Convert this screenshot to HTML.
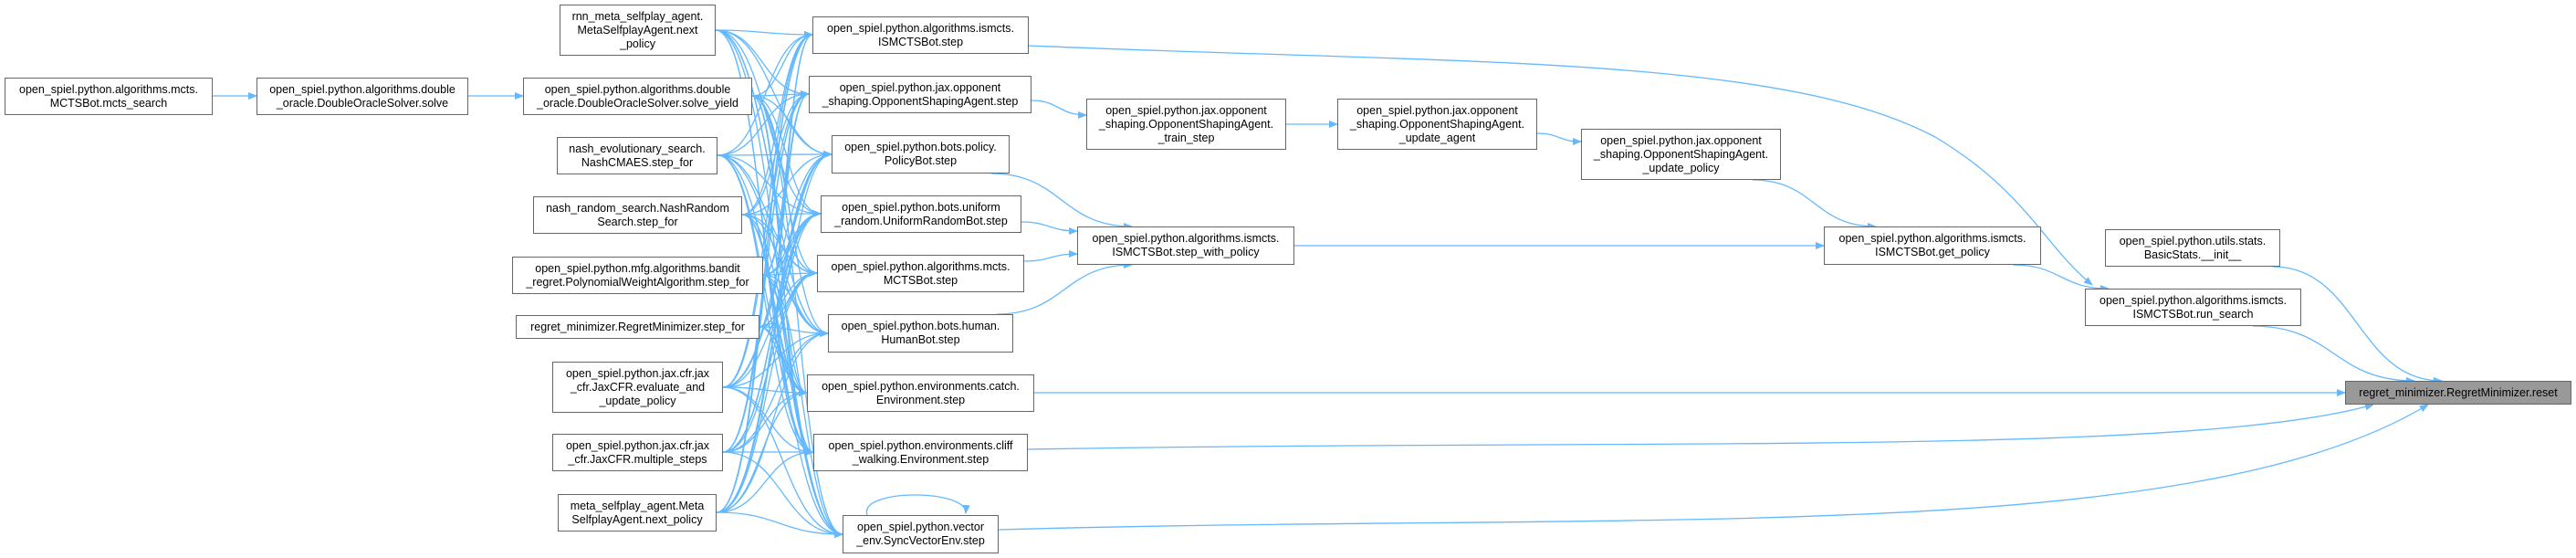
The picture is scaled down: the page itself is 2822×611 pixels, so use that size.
<!DOCTYPE html>
<html><head><meta charset="utf-8"><style>
body{margin:0;background:#fff;}
#c{position:relative;width:2822px;height:611px;overflow:hidden;font-family:"Liberation Sans",Arial,sans-serif;}
.n{position:absolute;box-sizing:border-box;border:1.5px solid #666;background:#fff;display:flex;align-items:center;justify-content:center;text-align:center;font-size:12.5px;line-height:15px;color:#000;white-space:nowrap;}
svg{position:absolute;left:0;top:0;}
</style></head><body><div id="c">
<svg id="s" width="2822" height="611" viewBox="0 0 2822 611">
<defs><marker id="a" markerWidth="10" markerHeight="8" refX="9" refY="4" orient="auto" markerUnits="userSpaceOnUse"><path d="M0,0 L10,4 L0,8 z" fill="#63b8ff"/></marker></defs>
<g id="e" fill="none" stroke="#63b8ff" stroke-width="1.3"></g>
</svg>
<div class="n" style="left:5px;top:85px;width:228px;height:41px">open_spiel.python.algorithms.mcts.<br>MCTSBot.mcts_search</div>
<div class="n" style="left:281px;top:85px;width:232px;height:41px">open_spiel.python.algorithms.double<br>_oracle.DoubleOracleSolver.solve</div>
<div class="n" style="left:573px;top:85px;width:251px;height:41px">open_spiel.python.algorithms.double<br>_oracle.DoubleOracleSolver.solve_yield</div>
<div class="n" style="left:613px;top:5px;width:171px;height:56px">rnn_meta_selfplay_agent.<br>MetaSelfplayAgent.next<br>_policy</div>
<div class="n" style="left:610px;top:150px;width:176px;height:41px">nash_evolutionary_search.<br>NashCMAES.step_for</div>
<div class="n" style="left:584px;top:215px;width:229px;height:41px">nash_random_search.NashRandom<br>Search.step_for</div>
<div class="n" style="left:561px;top:281px;width:275px;height:41px">open_spiel.python.mfg.algorithms.bandit<br>_regret.PolynomialWeightAlgorithm.step_for</div>
<div class="n" style="left:565px;top:345px;width:267px;height:26px">regret_minimizer.RegretMinimizer.step_for</div>
<div class="n" style="left:605px;top:396px;width:187px;height:56px">open_spiel.python.jax.cfr.jax<br>_cfr.JaxCFR.evaluate_and<br>_update_policy</div>
<div class="n" style="left:605px;top:475px;width:187px;height:41px">open_spiel.python.jax.cfr.jax<br>_cfr.JaxCFR.multiple_steps</div>
<div class="n" style="left:611px;top:541px;width:174px;height:41px">meta_selfplay_agent.Meta<br>SelfplayAgent.next_policy</div>
<div class="n" style="left:890px;top:18px;width:237px;height:41px">open_spiel.python.algorithms.ismcts.<br>ISMCTSBot.step</div>
<div class="n" style="left:886px;top:83px;width:244px;height:41px">open_spiel.python.jax.opponent<br>_shaping.OpponentShapingAgent.step</div>
<div class="n" style="left:911px;top:148px;width:195px;height:42px">open_spiel.python.bots.policy.<br>PolicyBot.step</div>
<div class="n" style="left:899px;top:214px;width:220px;height:41px">open_spiel.python.bots.uniform<br>_random.UniformRandomBot.step</div>
<div class="n" style="left:895px;top:279px;width:227px;height:41px">open_spiel.python.algorithms.mcts.<br>MCTSBot.step</div>
<div class="n" style="left:907px;top:344px;width:203px;height:42px">open_spiel.python.bots.human.<br>HumanBot.step</div>
<div class="n" style="left:884px;top:410px;width:249px;height:41px">open_spiel.python.environments.catch.<br>Environment.step</div>
<div class="n" style="left:891px;top:475px;width:235px;height:41px">open_spiel.python.environments.cliff<br>_walking.Environment.step</div>
<div class="n" style="left:923px;top:564px;width:171px;height:42px">open_spiel.python.vector<br>_env.SyncVectorEnv.step</div>
<div class="n" style="left:1190px;top:108px;width:219px;height:56px">open_spiel.python.jax.opponent<br>_shaping.OpponentShapingAgent.<br>_train_step</div>
<div class="n" style="left:1465px;top:108px;width:219px;height:56px">open_spiel.python.jax.opponent<br>_shaping.OpponentShapingAgent.<br>_update_agent</div>
<div class="n" style="left:1732px;top:141px;width:219px;height:56px">open_spiel.python.jax.opponent<br>_shaping.OpponentShapingAgent.<br>_update_policy</div>
<div class="n" style="left:1180px;top:248px;width:238px;height:42px">open_spiel.python.algorithms.ismcts.<br>ISMCTSBot.step_with_policy</div>
<div class="n" style="left:1998px;top:248px;width:238px;height:42px">open_spiel.python.algorithms.ismcts.<br>ISMCTSBot.get_policy</div>
<div class="n" style="left:2306px;top:251px;width:192px;height:41px">open_spiel.python.utils.stats.<br>BasicStats.__init__</div>
<div class="n" style="left:2284px;top:316px;width:237px;height:41px">open_spiel.python.algorithms.ismcts.<br>ISMCTSBot.run_search</div>
<div class="n" style="left:2569px;top:417px;width:248px;height:26px;background:#999">regret_minimizer.RegretMinimizer.reset</div>
</div>
<script>
var g=document.getElementById('e');
function P(d){var p=document.createElementNS('http://www.w3.org/2000/svg','path');p.setAttribute('d',d);p.setAttribute('marker-end','url(#a)');g.appendChild(p);}
function E(x1,y1,x2,y2){var dx=(x2-x1)*0.5;P('M'+x1+','+y1+' C'+(x1+dx)+','+y1+' '+(x2-dx)+','+y2+' '+x2+','+y2);}
var L=[[784,33],[824,105],[786,170],[813,235],[836,301],[832,358],[792,424],[792,495],[785,561]];
var M=[[890,38],[886,103],[911,169],[899,234],[895,299],[907,365],[884,430],[891,495],[923,585]];
L.forEach(function(l){M.forEach(function(m){E(l[0],l[1],m[0],m[1]);});});
E(233,105,281,105);E(513,105,573,105);
E(1130,110,1190,126);E(1409,136,1465,136);E(1684,146,1732,155);
E(1086,190,1240,248);E(1119,243,1180,253);E(1122,286,1180,278);E(1092,344,1240,290);
E(1418,269,1998,269);E(1920,197,2055,248);E(2205,290,2310,316);
P('M1127,50 C1600,70 1950,60 2120,150 C2220,210 2240,270 2292,312');
E(2490,292,2675,417);E(2468,357,2645,417);
E(1133,430,2569,430);
P('M1126,492 C1800,480 2400,500 2600,443');
P('M1094,580 C1800,560 2400,600 2660,443');
P('M950,564 C940,535 1060,535 1058,562');
</script>
</body></html>
